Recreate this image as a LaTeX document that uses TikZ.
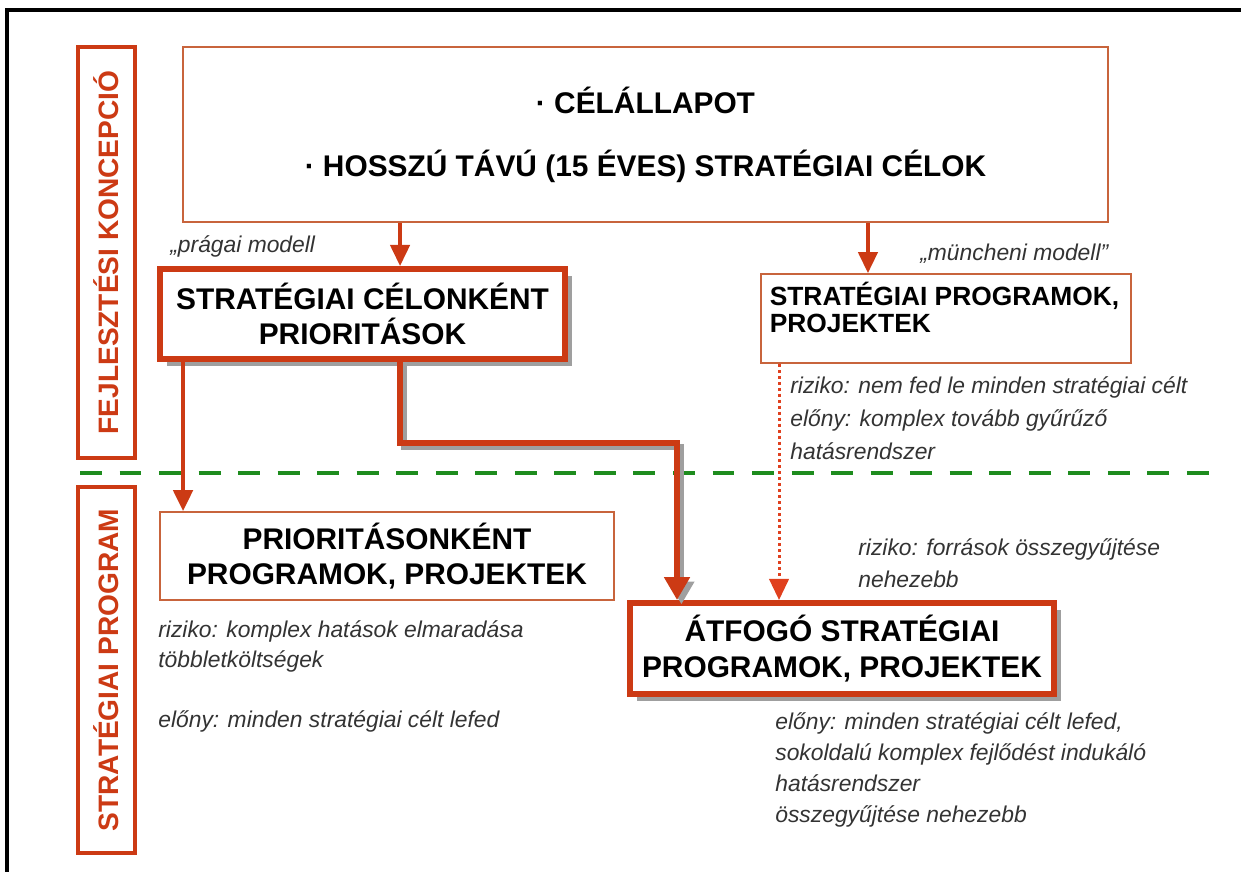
\documentclass[tikz,border=0pt]{standalone}
\usepackage{fontspec}
\setmainfont{Liberation Sans}
\usetikzlibrary{arrows.meta,shadows,calc}
\definecolor{boxRed}{HTML}{CC3A14}
\definecolor{thinRed}{HTML}{C8643C}
\definecolor{dotRed}{HTML}{E0401E}
\definecolor{sepGreen}{HTML}{1E8C1E}
\definecolor{noteGray}{HTML}{333333}
\newcommand{\boxfont}{\bfseries\fontsize{17}{20}\selectfont}
\tikzset{
	bigbox/.style={draw=boxRed, line width=3.4pt, fill=white, align=center, font=\boxfont,
		drop shadow={shadow xshift=4pt, shadow yshift=-4pt, fill=gray!75, opacity=1}},
	thinbox/.style={draw=thinRed, line width=1pt, fill=white, align=center, font=\boxfont},
	sidebox/.style={draw=boxRed, line width=2.3pt, text=boxRed, rotate=90, minimum height=1.14cm,
		font=\bfseries\fontsize{16}{18}\selectfont},
	% base anchor of a multi-line note is its last line
	note/.style={anchor=base west, align=left, inner sep=0pt, text=noteGray,
		font=\itshape\fontsize{13}{17.6}\selectfont},
	arr/.style={draw=boxRed, line width=2pt, -{Triangle[width=11pt,length=12pt]}},
	elbow/.style={draw=boxRed, line width=3.4pt, -{Triangle[width=14pt,length=13pt]}},
	elbowshade/.style={draw=gray!75, line width=3.4pt, -{Triangle[width=14pt,length=13pt]},
		transform canvas={shift={(2.5pt,-2.5pt)}}},
	dotarr/.style={draw=dotRed, line width=1.7pt, dash pattern=on 1.7pt off 1.7pt,
		-{Triangle[width=11pt,length=12pt]}},
	sepline/.style={draw=sepGreen, line width=2.8pt, dash pattern=on 12.5pt off 10pt}
}

\begin{document}
\begin{tikzpicture}[x=0.02cm, y=-0.02cm]
	\useasboundingbox (0,0) rectangle (1241,872);
	\draw[line width=1.8pt] (7,872) -- (7,10) -- (1241,10);
	
	\node[sidebox, minimum width=8.22cm] (concept) at (106.5,252.5) {FEJLESZTÉSI KONCEPCIÓ};
	\node[sidebox, minimum width=7.32cm] (program) at (106.5,670) {STRATÉGIAI PROGRAM};
	
	\node[thinbox, minimum width=18.5cm, minimum height=3.5cm] (goals) at (645.5,134.5)
		{· CÉLÁLLAPOT\\[16pt]· HOSSZÚ TÁVÚ (15 ÉVES) STRATÉGIAI CÉLOK};
	\node[bigbox, minimum width=8.1cm, minimum height=1.8cm] (prio) at (362.5,314)
		{STRATÉGIAI CÉLONKÉNT\\PRIORITÁSOK};
	\node[thinbox, minimum width=7.4cm, minimum height=1.78cm] (munich) at (946,318.5)
		{\parbox[c][1.45cm][t]{7.05cm}{\raggedright\bfseries\fontsize{15}{15.5}\selectfont
			STRATÉGIAI PROGRAMOK,\\PROJEKTEK}};
	\node[thinbox, minimum width=9.08cm, minimum height=1.76cm] (perprio) at (387,556)
		{PRIORITÁSONKÉNT\\PROGRAMOK, PROJEKTEK};
	\node[bigbox, minimum width=8.5cm, minimum height=1.82cm] (overall) at (842,648.5)
		{ÁTFOGÓ STRATÉGIAI\\PROGRAMOK, PROJEKTEK};
	
	% notes
	\node[note] (prague) at (170,252) {„prágai modell};
	\node[note] (munichlab) at (920,260) {„müncheni modell”};
	\node[note, font=\itshape\fontsize{13}{18.5}\selectfont] (munichnote) at (790,459)
		{riziko: nem fed le minden stratégiai célt\\előny: komplex tovább gyűrűző\\hatásrendszer};
	\node[note, font=\itshape\fontsize{13}{17}\selectfont] (perprionote) at (158,727)
		{riziko: komplex hatások elmaradása\\többletköltségek\\[17pt]előny: minden stratégiai célt lefed};
	\node[note, font=\itshape\fontsize{13}{18}\selectfont] (overallrisk) at (858,587)
		{riziko: források összegyűjtése\\nehezebb};
	\node[note] (overallnote) at (775,822)
		{előny: minden stratégiai célt lefed,\\sokoldalú komplex fejlődést indukáló\\hatásrendszer\\összegyűjtése nehezebb};
	
	\coordinate (sepL) at (80,473);
	\coordinate (sepR) at (1215,473);
	\draw[sepline] (sepL) -- (sepR);
	
	\coordinate (toPrague) at ([xshift=-4.91cm]goals.south);
	\coordinate (toMunich) at ([xshift=4.45cm]goals.south);
	\draw[arr] (toPrague) -- (toPrague |- prio.north);
	\draw[arr] (toMunich) -- (toMunich |- munich.north);
	
	\coordinate (prioLeft) at ([xshift=0.52cm]prio.south west);
	\draw[arr, line width=2.3pt] (prioLeft) -- (prioLeft |- perprio.north);
	
	\coordinate (prioMid) at ([xshift=0.75cm]prio.south);
	\draw[elbowshade] (prioMid) -- ++(0,81) -| ([xshift=-3.3cm]overall.north);
	\draw[elbow] (prioMid) -- ++(0,81) -| ([xshift=-3.3cm]overall.north);
	
	\coordinate (munichLeft) at ([xshift=-3.34cm]munich.south);
	\draw[dotarr] (munichLeft) -- (munichLeft |- overall.north);
\end{tikzpicture}
\end{document}
